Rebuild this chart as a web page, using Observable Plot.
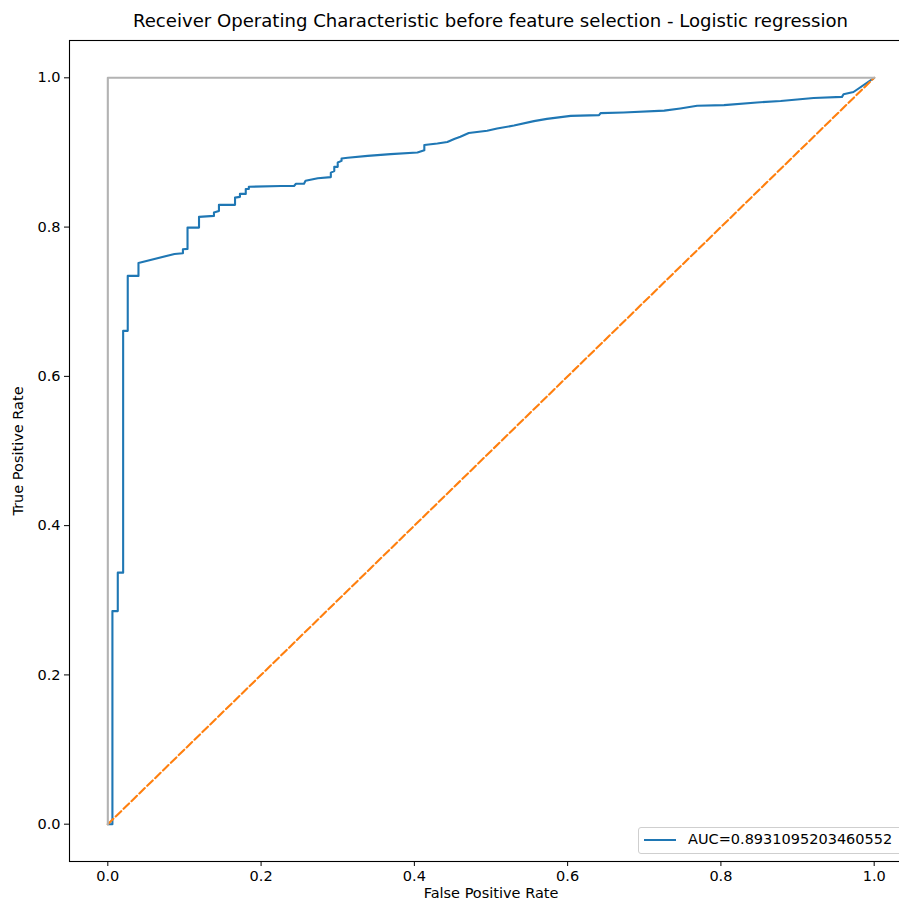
<!DOCTYPE html>
<html>
<head>
<meta charset="utf-8">
<script src="https://cdn.jsdelivr.net/npm/d3@7"></script>
<script src="https://cdn.jsdelivr.net/npm/@observablehq/plot@0.6"></script>
<style>
html, body { margin: 0; padding: 0; background: #fff; overflow: hidden; }
#wrap { position: relative; width: 899px; height: 906px; overflow: hidden; font-family: "DejaVu Sans", sans-serif; }
#title { position: absolute; left: 69px; width: 843px; top: 12px; text-align: center; font-size: 18.1px; line-height: 1; color: #000; white-space: nowrap; }
#legend { position: absolute; left: 638px; top: 827px; width: 290px; height: 25px; border: 1px solid #cfcfcf; border-radius: 3px; background: rgba(255,255,255,0.85); }
#legend .swatch { position: absolute; left: 5px; top: 11px; width: 32px; height: 2px; background: #1f77b4; }
#legend .txt { position: absolute; left: 49px; top: 4px; font-size: 14.5px; line-height: 1; color: #000; white-space: nowrap; }
</style>
</head>
<body>
<div id="wrap">
  <div id="chart"></div>
  <div id="title"></div>
  <div id="legend"><div class="swatch"></div><div class="txt"></div></div>
</div>
<script>
// ROC curve
const rocFpr = [0, 0.006, 0.006, 0.013, 0.013, 0.020, 0.020, 0.026, 0.026, 0.040,
  0.040, 0.087, 0.098, 0.098, 0.104, 0.104, 0.119, 0.119, 0.1385, 0.1385,
  0.145, 0.145, 0.166, 0.166, 0.1724, 0.1724, 0.180, 0.180, 0.184, 0.184,
  0.226, 0.243, 0.2455, 0.256, 0.258, 0.274, 0.291, 0.291, 0.2955, 0.2955,
  0.300, 0.300, 0.305, 0.305, 0.313, 0.339, 0.369, 0.404, 0.413, 0.413,
  0.430, 0.443, 0.452, 0.460, 0.471, 0.495, 0.508, 0.530, 0.556, 0.573,
  0.604, 0.641, 0.643, 0.673, 0.726, 0.747, 0.769, 0.804, 0.847, 0.878,
  0.921, 0.958, 0.960, 0.973, 1.0];
const rocTpr = [0, 0, 0.2855, 0.2855, 0.337, 0.337, 0.661, 0.661, 0.7346, 0.7346,
  0.752, 0.764, 0.765, 0.7704, 0.7708, 0.7993, 0.7993, 0.8137, 0.815, 0.8194,
  0.8217, 0.8298, 0.8298, 0.8395, 0.8405, 0.8445, 0.8445, 0.851, 0.851, 0.854,
  0.855, 0.855, 0.858, 0.858, 0.862, 0.8655, 0.867, 0.873, 0.875, 0.8807,
  0.8807, 0.8865, 0.8887, 0.892, 0.893, 0.8954, 0.8977, 0.900, 0.903, 0.910,
  0.912, 0.914, 0.918, 0.921, 0.926, 0.929, 0.932, 0.936, 0.942, 0.945,
  0.949, 0.950, 0.9527, 0.9535, 0.956, 0.959, 0.9625, 0.9634, 0.967, 0.969,
  0.973, 0.9745, 0.978, 0.981, 1.0];

// chance diagonal
const diagX = [0, 1];
const diagY = [0, 1];
// perfect classifier reference
const perfectX = [0, 0, 1];
const perfectY = [0, 1, 1];

const ticks = [0.0, 0.2, 0.4, 0.6, 0.8, 1.0];
const axisDomain = [-0.05, 1.05];

const titleText = "Receiver Operating Characteristic before feature selection - Logistic regression";
const xLabel = "False Positive Rate";
const yLabel = "True Positive Rate";
const legendLabel = "AUC=0.8931095203460552";

const roc = rocFpr.map((x, i) => ({x, y: rocTpr[i]}));
const diag = diagX.map((x, i) => ({x, y: diagY[i]}));
const perfect = perfectX.map((x, i) => ({x, y: perfectY[i]}));

const chart = Plot.plot({
  width: 912,
  height: 906,
  marginLeft: 69,
  marginRight: 0,
  marginTop: 40,
  marginBottom: 45,
  style: {maxWidth: "none", overflow: "hidden", fontFamily: "DejaVu Sans, sans-serif", fontSize: "14.5px", background: "white", color: "#000"},
  x: {domain: axisDomain},
  y: {domain: axisDomain},
  marks: [
    Plot.line(roc, {x: "x", y: "y", stroke: "#1f77b4", strokeWidth: 2.1}),
    Plot.line(diag, {x: "x", y: "y", stroke: "#ff7f0e", strokeWidth: 2.1, strokeDasharray: "7.7,3.3"}),
    Plot.line(perfect, {x: "x", y: "y", stroke: "#b3b3b3", strokeWidth: 2.1}),
    Plot.frame({stroke: "#000", strokeWidth: 1.1}),
    Plot.axisX({ticks, tickFormat: d => d.toFixed(1), tickSize: 5, tickPadding: 4, label: null}),
    Plot.axisY({ticks, tickFormat: d => d.toFixed(1), tickSize: 5, tickPadding: 4, label: null}),
    Plot.axisX({ticks: [], tickSize: 0, label: xLabel, labelAnchor: "center", labelArrow: "none", labelOffset: 36}),
    Plot.axisY({ticks: [], tickSize: 0, label: yLabel, labelAnchor: "center", labelArrow: "none", labelOffset: 57})
  ]
});
document.getElementById("chart").appendChild(chart);
document.getElementById("title").textContent = titleText;
document.querySelector("#legend .txt").textContent = legendLabel;
</script>
</body>
</html>
